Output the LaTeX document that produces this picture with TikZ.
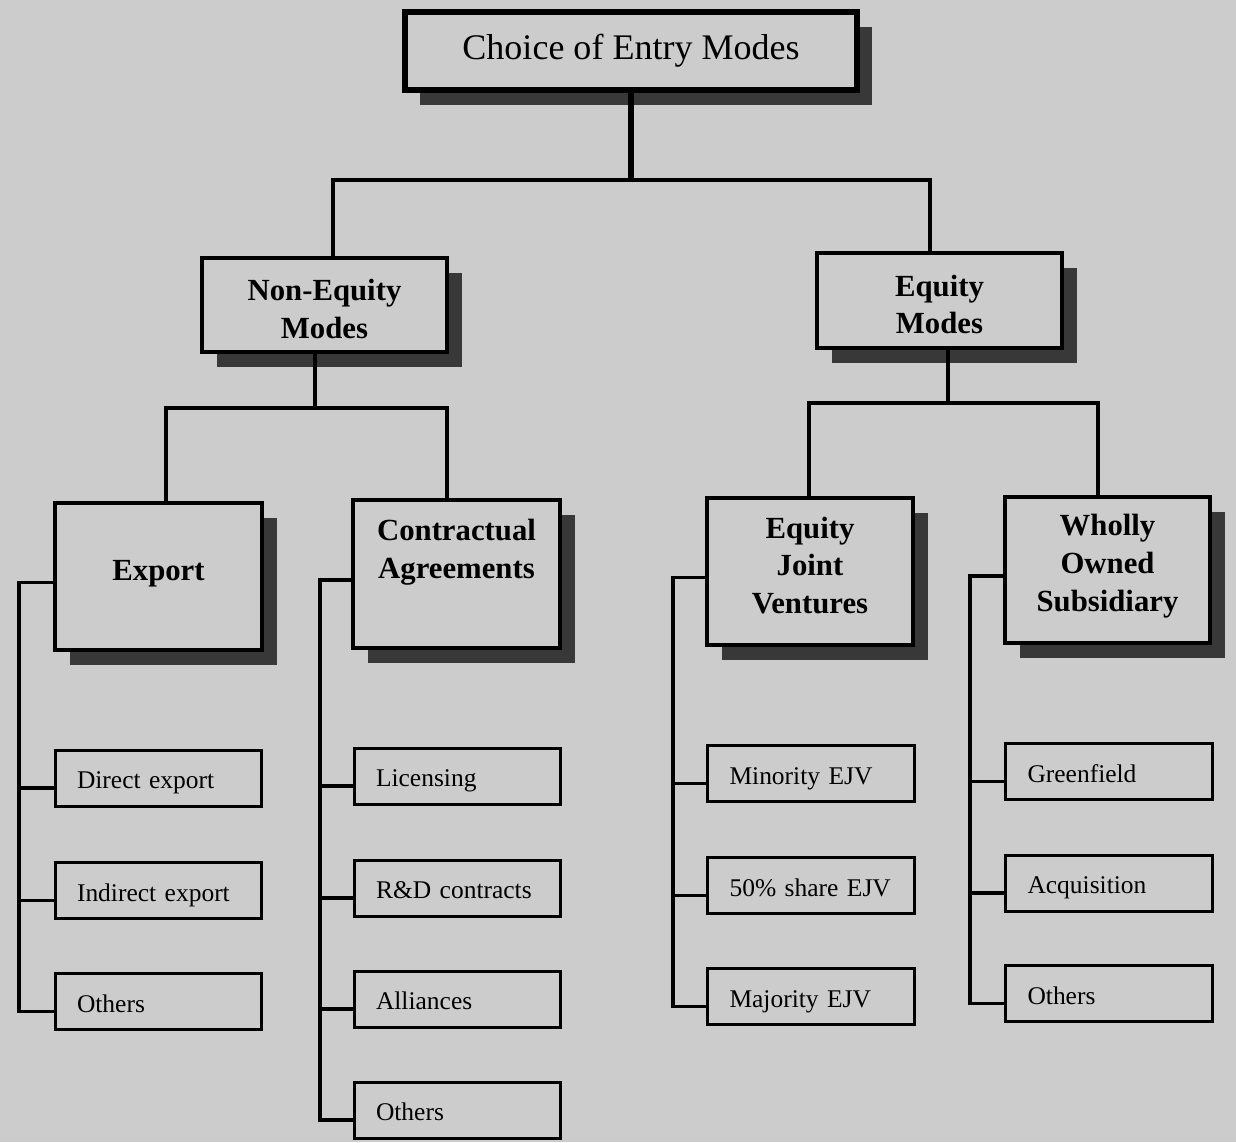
\documentclass[tikz,border=0pt]{standalone}
\usepackage{fontspec}
\setmainfont{Liberation Serif}
\usetikzlibrary{shadows}
\definecolor{paper}{gray}{0.80}
\definecolor{shade}{gray}{0.22}
\begin{document}
\begin{tikzpicture}[x=0.02cm,y=-0.02cm,
  conn/.style={line width=1.9pt},
  rootbox/.style={draw, line width=3pt, fill=paper,
    minimum width=452*0.02cm, minimum height=78*0.02cm, inner sep=0pt,
    font=\fontsize{20.5pt}{24pt}\selectfont,
    drop shadow={shadow xshift=0.3cm, shadow yshift=-0.3cm, fill=shade, opacity=1}},
  catbox/.style 2 args={draw, line width=2.3pt, fill=paper, inner sep=0pt,
    minimum width=#1*0.02cm, minimum height=#2*0.02cm,
    drop shadow={shadow xshift=0.3cm, shadow yshift=-0.3cm, fill=shade, opacity=1}},
  cattext/.style={align=center, inner sep=0pt,
    font=\bfseries\fontsize{17.5pt}{21.5pt}\selectfont},
  leaf/.style={draw, line width=1.7pt, fill=paper, inner xsep=0.44cm, inner ysep=0pt,
    text width=3.26cm, text height=15.4pt, text depth=3pt,
    minimum height=56*0.02cm, align=left,
    font=\fontsize{14.5pt}{17pt}\selectfont},
]
% paper
\fill[paper] (0,0) rectangle (1236,1142);
\useasboundingbox (0,0) rectangle (1236,1142);

% top level
\node[rootbox] (root) at (631,51) {Choice of Entry Modes};

% second level
\node[catbox={245}{94}] (ne) at (324.5,305) {};
\node[cattext] (ne-t) at ([yshift=-0.08cm]ne.center) {Non-Equity\\Modes};
\node[catbox={245}{95}] (eq) at (939.5,300.5) {};
\node[cattext] (eq-t) at ([yshift=-0.08cm]eq.center) {Equity\\Modes};

% third level
\node[catbox={207}{147}] (exp) at (158.5,576.5) {};
\node[cattext] (exp-t) at ([yshift=0.06cm]exp.center) {Export};
\node[catbox={207}{148}] (con) at (456.5,574) {};
\node[cattext] (con-t) at ([yshift=0.43cm]con.center) {Contractual\\Agreements};
\node[catbox={206}{147}] (ejv) at (810,571.5) {};
\node[cattext] (ejv-t) at ([yshift=0.12cm]ejv.center) {Equity\\Joint\\Ventures};
\node[catbox={205}{146}] (wos) at (1107.5,570) {};
\node[cattext] (wos-t) at ([yshift=0.08cm]wos.center) {Wholly\\Owned\\Subsidiary};

% leaves
\node[leaf] (ed) at (158.5,778) {Direct export};
\node[leaf] (ei) at (158.5,890.5) {Indirect export};
\node[leaf] (eo) at (158.5,1001.5) {Others};

\node[leaf] (cl) at (457.5,776) {Licensing};
\node[leaf] (cr) at (457.5,888) {R\&D contracts};
\node[leaf] (ca) at (457.5,999) {Alliances};
\node[leaf] (co) at (457.5,1110) {Others};

\node[leaf] (jmin) at (811,773.5) {Minority EJV};
\node[leaf] (jhalf) at (811,885.5) {50\% share EJV};
\node[leaf] (jmaj) at (811,996.5) {Majority EJV};

\node[leaf] (wg) at (1109,771.5) {Greenfield};
\node[leaf] (wa) at (1109,883) {Acquisition};
\node[leaf] (wo) at (1109,993.5) {Others};

% junction points of the tree
\coordinate (j0) at (631,180);
\coordinate (jl) at (333,180);
\coordinate (jr) at (930,180);
\coordinate (nej) at (315,408);
\coordinate (jx1) at (166,408);
\coordinate (jx2) at (447,408);
\coordinate (eqj) at (948,403);
\coordinate (jy1) at (809,403);
\coordinate (jy2) at (1098,403);

% connectors between levels
\draw[line width=2.9pt] (root.south) -- (j0);
\draw[conn] (jl |- ne.north) -- (jl) -- (jr) -- (jr |- eq.north);
\draw[conn] (nej |- ne.south) -- (nej);
\draw[conn] (jx1 |- exp.north) -- (jx1) -- (jx2) -- (jx2 |- con.north);
\draw[conn] (eqj |- eq.south) -- (eqj);
\draw[conn] (jy1 |- ejv.north) -- (jy1) -- (jy2) -- (jy2 |- wos.north);

% side spines to the leaves
\coordinate (spA) at (19,0);
\coordinate (spB) at (320,0);
\coordinate (spC) at (673,0);
\coordinate (spD) at (970,0);
\foreach \c in {exp,con,ejv,wos}
  \coordinate (\c-in) at ([yshift=-0.12cm]\c.west);
\foreach \l in {ed,ei,eo,cl,cr,ca,co,jmin,jhalf,jmaj,wg,wa,wo}
  \coordinate (\l-in) at ([yshift=-0.2cm]\l.west);

\draw[conn] (exp-in) -- (spA |- exp-in) -- (spA |- eo-in) -- (eo-in);
\foreach \l in {ed,ei} \draw[conn] (\l-in) -- (spA |- \l-in);
\draw[conn] (con-in) -- (spB |- con-in) -- (spB |- co-in) -- (co-in);
\foreach \l in {cl,cr,ca} \draw[conn] (\l-in) -- (spB |- \l-in);
\draw[conn] (ejv-in) -- (spC |- ejv-in) -- (spC |- jmaj-in) -- (jmaj-in);
\foreach \l in {jmin,jhalf} \draw[conn] (\l-in) -- (spC |- \l-in);
\draw[conn] (wos-in) -- (spD |- wos-in) -- (spD |- wo-in) -- (wo-in);
\foreach \l in {wg,wa} \draw[conn] (\l-in) -- (spD |- \l-in);
\end{tikzpicture}
\end{document}
